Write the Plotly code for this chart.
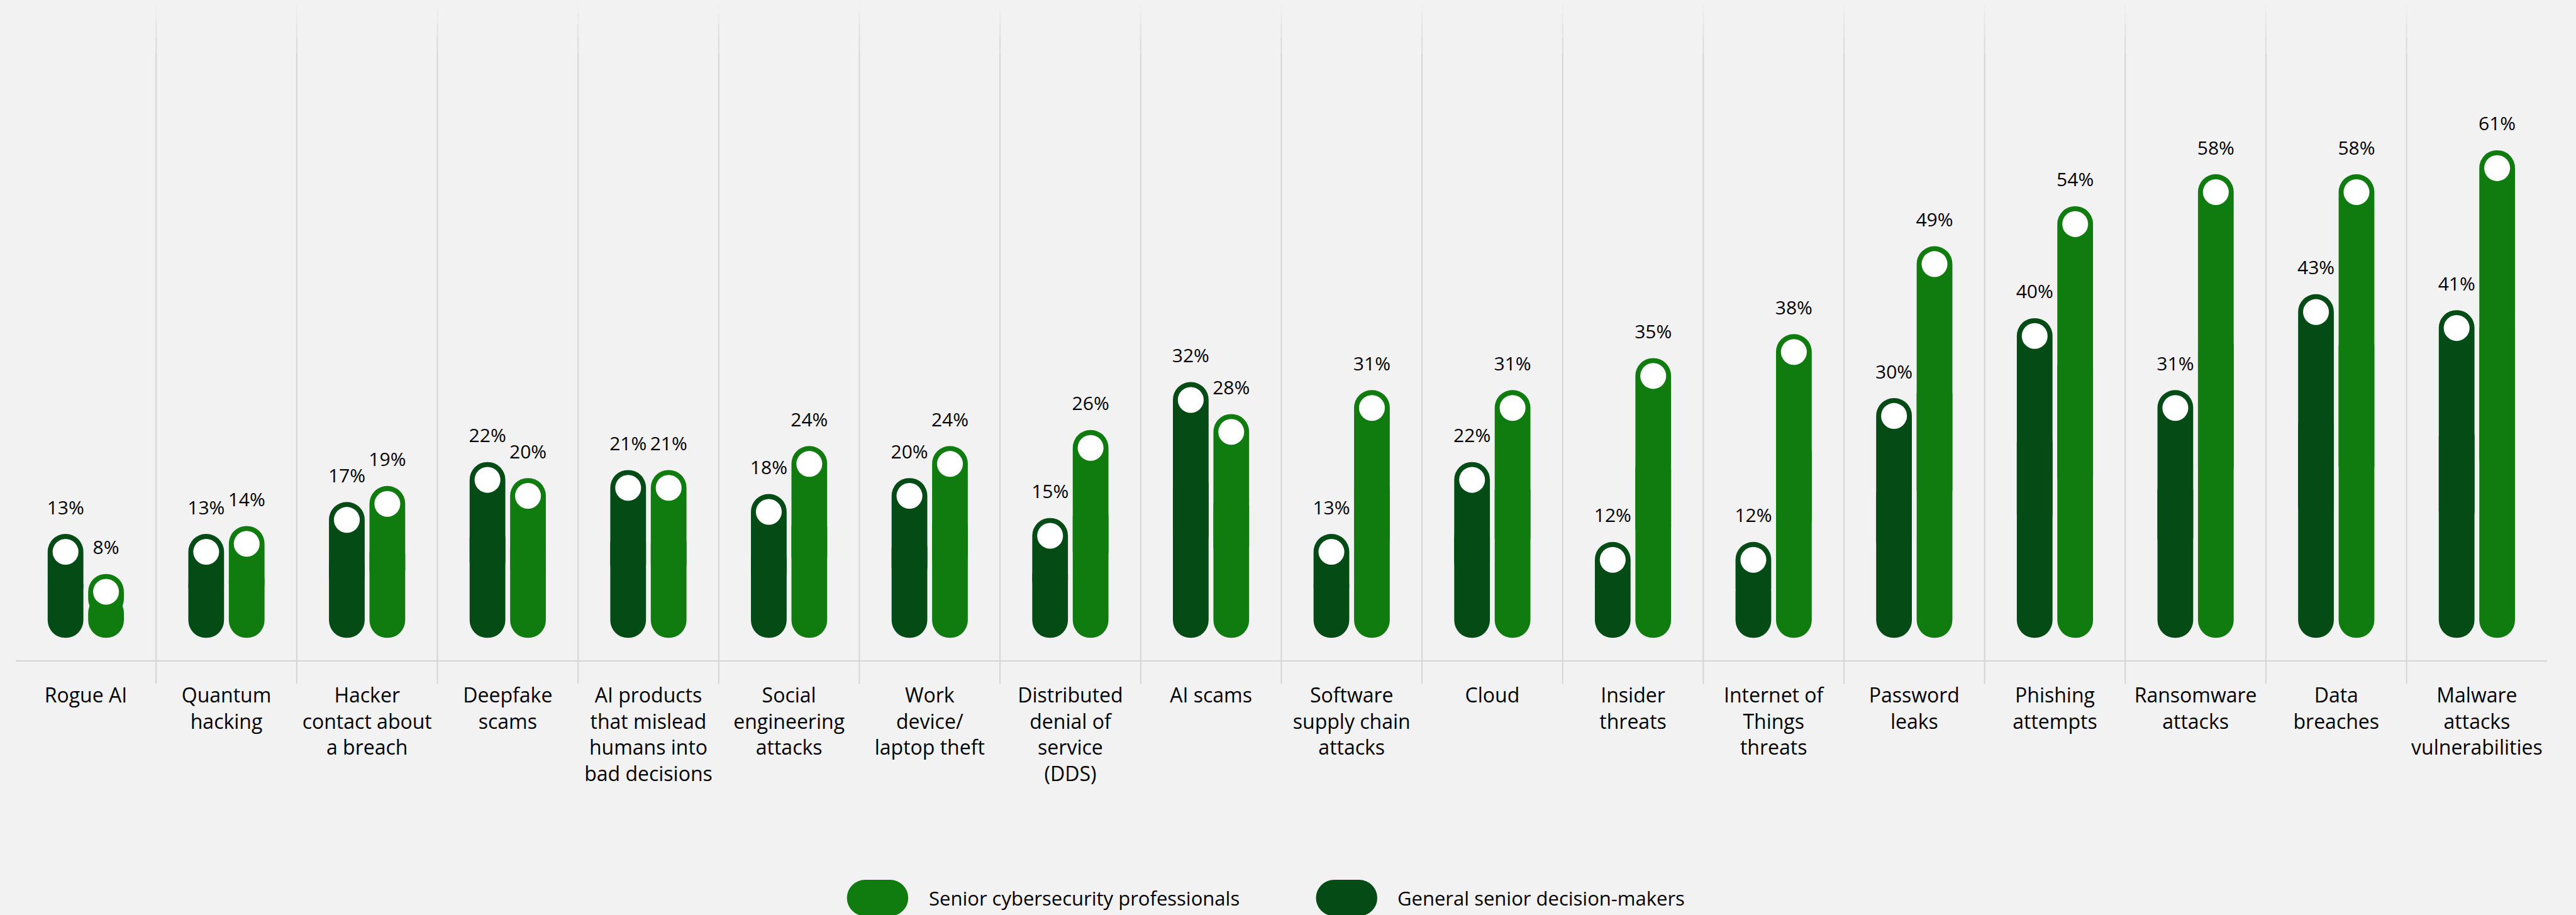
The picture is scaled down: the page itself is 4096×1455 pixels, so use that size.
import plotly.graph_objects as go

# ---------------- data ----------------
categories = [
    "Rogue AI", "Quantum<br>hacking", "Hacker<br>contact about<br>a breach", "Deepfake<br>scams",
    "AI products<br>that mislead<br>humans into<br>bad decisions", "Social<br>engineering<br>attacks",
    "Work<br>device/<br>laptop theft", "Distributed<br>denial of<br>service<br>(DDS)", "AI scams",
    "Software<br>supply chain<br>attacks", "Cloud", "Insider<br>threats", "Internet of<br>Things<br>threats",
    "Password<br>leaks", "Phishing<br>attempts", "Ransomware<br>attacks", "Data<br>breaches",
    "Malware<br>attacks<br>vulnerabilities",
]
general_senior = [13, 13, 17, 22, 21, 18, 20, 15, 32, 13, 22, 12, 12, 30, 40, 31, 43, 41]
senior_cyber = [8, 14, 19, 20, 21, 24, 24, 26, 28, 31, 31, 35, 38, 49, 54, 58, 58, 61]
series_names = ["Senior cybersecurity professionals", "General senior decision-makers"]

# ---------------- styling ----------------
W, H = 4096, 1455
S = W / 4833.0                      # scale from reference
REF_H = 1717.0
BG = "#f2f2f2"
DARK = "#054b16"
LIGHT = "#107c10"
GRID = "#d4d4d4"
FONT = "Open Sans"
WEIGHT = 500

PX_PER_PCT_REF = 15.0
BASE_Y_REF = 1197.0
y_lo = (BASE_Y_REF - REF_H) / PX_PER_PCT_REF
y_hi = BASE_Y_REF / PX_PER_PCT_REF

CAT_W_REF = 263.9
bar_w = 67 / CAT_W_REF
half_gap = 38 / CAT_W_REF
cap_pct = 33.5 / PX_PER_PCT_REF       # centre of white dot below bar top
lab_pct = 46 / PX_PER_PCT_REF         # label centre above bar top
n = len(categories)
xs = list(range(n))

fig = go.Figure()


def add_pill(vals, center_off, color, name):
    # upper part (rounded top)
    fig.add_trace(go.Bar(
        x=xs, y=[2 * v / 3 for v in vals], base=[v / 3 for v in vals],
        width=bar_w, offset=center_off - bar_w / 2,
        marker=dict(color=color, line=dict(width=0), cornerradius="50%"),
        name=name, showlegend=False, hoverinfo="skip"))
    # lower part (rounded bottom)
    fig.add_trace(go.Bar(
        x=xs, y=[-2 * v / 3 for v in vals], base=[2 * v / 3 for v in vals],
        width=bar_w, offset=center_off - bar_w / 2,
        marker=dict(color=color, line=dict(width=0), cornerradius="50%"),
        showlegend=False, hoverinfo="skip"))
    # white dot
    fig.add_trace(go.Scatter(
        x=[i + center_off for i in xs], y=[v - cap_pct for v in vals], mode="markers",
        marker=dict(color="white", size=48.5 * S, line=dict(width=0)),
        showlegend=False, hoverinfo="skip", cliponaxis=False))
    # value label
    fig.add_trace(go.Scatter(
        x=[i + center_off for i in xs], y=[v + lab_pct for v in vals], mode="text",
        text=[f"{v}%" for v in vals], textposition="middle center",
        textfont=dict(family=FONT, size=30, color="#000000", weight=WEIGHT),
        showlegend=False, hoverinfo="skip", cliponaxis=False))


add_pill(general_senior, -half_gap, DARK, series_names[1])
add_pill(senior_cyber, half_gap, LIGHT, series_names[0])

shapes = []
# vertical separators with a faded top
y_bot = 1 - 1283 / REF_H
for k in range(n - 1):
    xk = k + 0.5
    shapes.append(dict(type="line", xref="x", yref="paper", x0=xk, x1=xk,
                       y0=y_bot, y1=1 - 100 / REF_H, line=dict(color=GRID, width=2), layer="below"))
    prev = 100
    for top, op in [(70, 0.75), (45, 0.5), (25, 0.25), (10, 0.1)]:
        shapes.append(dict(type="line", xref="x", yref="paper", x0=xk, x1=xk,
                           y0=1 - prev / REF_H, y1=1 - top / REF_H,
                           line=dict(color=GRID, width=2), opacity=op, layer="below"))
        prev = top

# legend pills + text
leg_y = 1 - 1685 / REF_H
pill_w = 115 * S
pill_h = 68 * S
r = pill_h / 2
annotations = []
for cx_ref, txt_ref, color, label in [(1646.5, 1740, LIGHT, series_names[0]),
                                      (2526.5, 2620, DARK, series_names[1])]:
    cx = cx_ref * S / W
    for dx in (-(pill_w / 2 - r), (pill_w / 2 - r)):
        shapes.append(dict(type="circle", xref="paper", yref="paper", xsizemode="pixel", ysizemode="pixel",
                           xanchor=cx, yanchor=leg_y, x0=dx - r, x1=dx + r, y0=-r, y1=r,
                           fillcolor=color, line=dict(width=0)))
    shapes.append(dict(type="rect", xref="paper", yref="paper", xsizemode="pixel", ysizemode="pixel",
                       xanchor=cx, yanchor=leg_y, x0=-(pill_w / 2 - r), x1=(pill_w / 2 - r), y0=-r, y1=r,
                       fillcolor=color, line=dict(width=0)))
    annotations.append(dict(x=txt_ref * S / W, y=leg_y, xref="paper", yref="paper",
                            xanchor="left", yanchor="middle", showarrow=False, text=label,
                            font=dict(family=FONT, size=31, color="#000000", weight=WEIGHT)))

fig.update_layout(
    width=W, height=H, margin=dict(l=0, r=0, t=0, b=0),
    paper_bgcolor=BG, plot_bgcolor=BG, barmode="overlay", showlegend=False,
    shapes=shapes, annotations=annotations,
    xaxis=dict(domain=[29 / 4833, 4779 / 4833], range=[-0.5, n - 0.5], anchor="free",
               position=1 - 1240 / REF_H, showgrid=False, zeroline=False,
               showline=True, linecolor=GRID, linewidth=2,
               tickmode="array", tickvals=xs, ticktext=categories,
               ticks="outside", ticklen=0, tickcolor="rgba(0,0,0,0)",
               ticklabelstandoff=27,
               tickfont=dict(family=FONT, size=32, color="#000000", weight=WEIGHT),
               automargin=False, fixedrange=True),
    yaxis=dict(domain=[0, 1], range=[y_lo, y_hi], visible=False, fixedrange=True),
)

fig.write_html("out.html")
